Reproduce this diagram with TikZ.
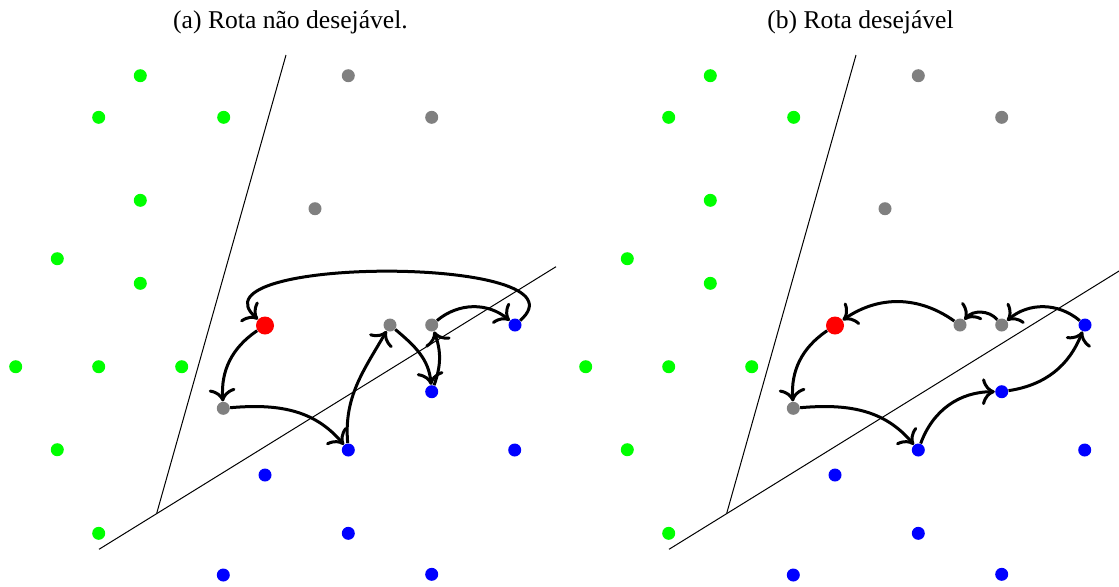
\documentclass[tikz,border=0pt]{standalone}
\usepackage{fontspec}
\setmainfont{Liberation Serif}
\usetikzlibrary{arrows.meta}

\begin{document}
\begin{tikzpicture}[x=0.5pt,y=0.5pt]
  \tikzstyle{myDot}=[circle, inner sep=0pt, minimum size=6.5pt]
  \tikzstyle{myGreen}=[myDot, fill=green]
  \tikzstyle{myGray}=[myDot, fill=gray]
  \tikzstyle{myBlue}=[myDot, fill=blue]
  \tikzstyle{myRed}=[myDot, fill=red, minimum size=9pt]
  \tikzstyle{myArrow}=[-{To[scale=1.3]}, line width=1.5pt]
  \tikzstyle{myTitle}=[anchor=base, inner sep=0pt, font=\fontsize{12.8}{15}\selectfont]

  \clip (0,0) rectangle (1119,-586);

  \foreach \p/\dx/\txt in {a/0/{(a) Rota não desejável.}, b/570/{(b) Rota desejável}} {
    \begin{scope}[xshift=\dx*0.5pt]
      \node[myTitle] (\p-title) at (290.5,-28.5) {\txt};

      % the two boundaries
      \draw[line width=0.5pt] (286,-55) -- (156.7,-513.3);
      \draw[line width=0.5pt] (99,-549.3) -- (556,-266.7);

      % green region
      \foreach \x/\y [count=\i] in {140.3/75.7, 98.7/117.3, 223.7/117.3, 140.3/200.3,
          57.3/258.7, 140.3/283.3, 15.7/366.7, 98.7/366.7, 181.7/366.7,
          57.3/449.7, 98.7/533.3}
        \node[myGreen] (\p-v\i) at (\x,-\y) {};

      % gray nodes
      \node[myGray] (\p-c1) at (348.3,-75.7) {};
      \node[myGray] (\p-c2) at (431.7,-117.3) {};
      \node[myGray] (\p-c3) at (315,-208.7) {};
      \node[myGray] (\p-g1) at (223.3,-408.3) {};
      \node[myGray] (\p-g2) at (390,-325) {};
      \node[myGray] (\p-g3) at (431.7,-325) {};

      % blue region
      \node[myBlue] (\p-b1) at (348.3,-450) {};
      \node[myBlue] (\p-b2) at (431.7,-391.7) {};
      \node[myBlue] (\p-b3) at (515,-325) {};
      \foreach \x/\y [count=\i] in {514.7/450, 265/475, 348.3/533.3, 223.3/575, 431.7/574.3}
        \node[myBlue] (\p-z\i) at (\x,-\y) {};

      \node[myRed] (\p-red) at (265,-325.5) {};
    \end{scope}
  }

  % (a) route
  \draw[myArrow] (a-red) to[bend right=30] (a-g1);
  \draw[myArrow] (a-g1) to[out=5,in=130] (a-b1);
  \draw[myArrow] (a-b1) to[out=95,in=240] (a-g2);
  \draw[myArrow] (a-g2) to[out=-40,in=95] (a-b2);
  \draw[myArrow] (a-b2) to[bend right=20] (a-g3);
  \draw[myArrow] (a-g3) to[bend left=40] (a-b3);
  \draw[myArrow] (a-b3) .. controls +(80,70) and +(-80,70) .. (a-red);

  % (b) route
  \draw[myArrow] (b-red) to[bend right=30] (b-g1);
  \draw[myArrow] (b-g1) to[out=5,in=130] (b-b1);
  \draw[myArrow] (b-b1) to[bend left=35] (b-b2);
  \draw[myArrow] (b-b2) to[bend right=30] (b-b3);
  \draw[myArrow] (b-b3) to[bend right=40] (b-g3);
  \draw[myArrow] (b-g3) to[bend right=50] (b-g2);
  \draw[myArrow] (b-g2) to[bend right=35] (b-red);
\end{tikzpicture}
\end{document}
